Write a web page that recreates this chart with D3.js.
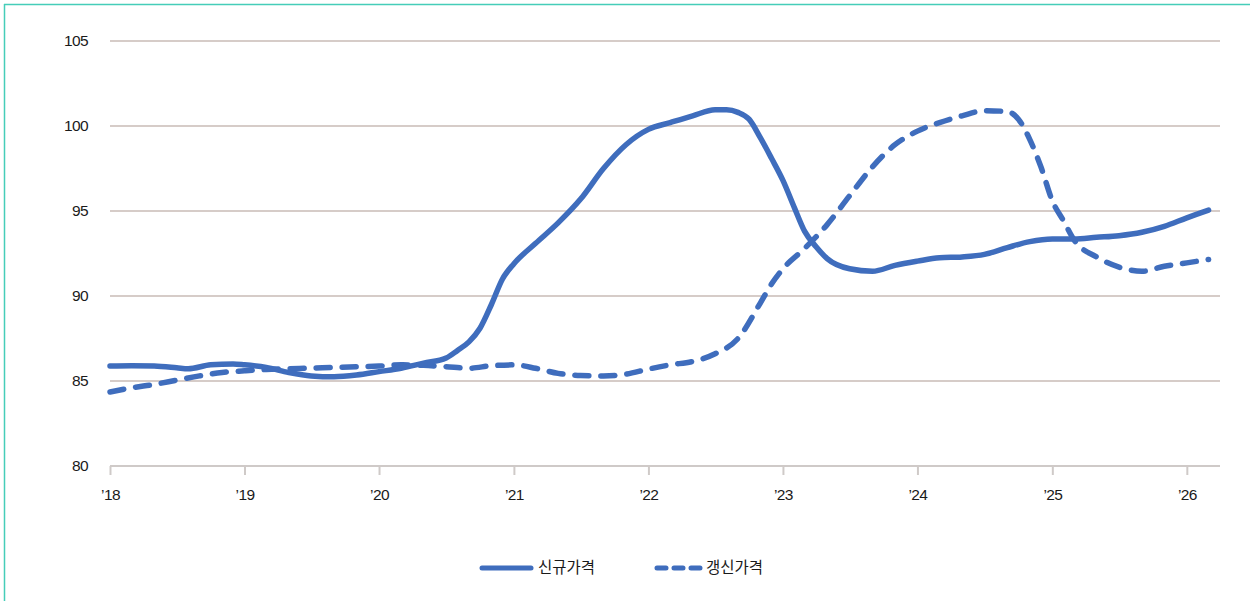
<!DOCTYPE html>
<html><head><meta charset="utf-8">
<script src="https://cdn.jsdelivr.net/npm/d3@7"></script>
<style>
html,body{margin:0;padding:0;background:#fff;}
svg{display:block;font-family:"Liberation Sans","Noto Sans CJK KR",sans-serif;}
</style></head>
<body><svg id="c" width="1250" height="601"></svg>
<script>
// ---- data ----
const newMonths = [0,2,4,6,7,9,11,12,14,16,18,20,22,24,26,28,30,31,32,33,34,35,36,38,40,42,44,46,48,50,52,54,55,56,57,58,59,60,61,62,63,64,66,68,70,72,74,76,78,80,82,84,86,88,90,92,94,96,98];
const newValues = [85.88,85.9,85.88,85.78,85.72,85.95,86.0,85.95,85.8,85.5,85.3,85.25,85.35,85.55,85.75,86.05,86.35,86.8,87.3,88.1,89.5,91.0,91.9,93.1,94.3,95.7,97.5,98.9,99.8,100.2,100.6,100.95,100.95,100.8,100.4,99.3,98.1,96.8,95.2,93.8,92.9,92.2,91.6,91.45,91.8,92.05,92.25,92.3,92.45,92.85,93.2,93.35,93.35,93.45,93.55,93.75,94.1,94.6,95.05];
const renewMonths = [0,2,4,6,8,10,12,14,16,18,20,22,24,26,28,30,32,34,36,38,40,42,44,46,48,50,52,54,56,58,59,60,62,64,66,68,70,72,74,76,78,80,81,82,83,84,85,86,88,90,92,94,96,98];
const renewValues = [84.35,84.6,84.8,85.05,85.3,85.5,85.6,85.68,85.72,85.76,85.8,85.84,85.88,85.95,85.92,85.84,85.75,85.9,85.95,85.75,85.45,85.32,85.3,85.4,85.7,85.95,86.15,86.6,87.5,89.6,90.7,91.6,92.8,94.2,95.9,97.6,98.9,99.7,100.2,100.6,100.9,100.85,100.4,99.2,97.6,95.6,94.4,93.3,92.3,91.7,91.45,91.75,91.95,92.15];
const yTicks = [80,85,90,95,100,105];
const xTickYears = [2018,2019,2020,2021,2022,2023,2024,2025,2026];
const xTickLabels = ["’18","’19","’20","’21","’22","’23","’24","’25","’26"];
const seriesNames = ["신규가격","갱신가격"];

const toDate = m => new Date(2018, m, 1);
const svg = d3.select("#c");
const blue = "#3f6dbd";
const textCol = "#1a1a1a";

// frame
svg.append("line").attr("x1",4).attr("x2",1250).attr("y1",4.5).attr("y2",4.5).attr("stroke","#45cdb9").attr("stroke-width",1.5);
svg.append("line").attr("x1",4.5).attr("x2",4.5).attr("y1",4).attr("y2",601).attr("stroke","#45cdb9").attr("stroke-width",1.5);

const x = d3.scaleTime().domain([new Date(2018,0,1), new Date(2026,3,1)]).range([110,1220]);
const y = d3.scaleLinear().domain([80,105]).range([466,41]);

// gridlines
svg.append("g").selectAll("line").data(yTicks.filter(v=>v>80)).join("line")
  .attr("x1",110).attr("x2",1220).attr("y1",d=>y(d)).attr("y2",d=>y(d))
  .attr("stroke","#d6ccc8").attr("stroke-width",2);

// y axis labels
svg.append("g").selectAll("text").data(yTicks).join("text")
  .attr("x",88).attr("y",d=>y(d)).attr("dy","0.35em").attr("text-anchor","end")
  .attr("font-size",15.5).attr("fill",textCol).attr("letter-spacing","-0.6")
  .text(d=>d);

// x axis
const xAxis = d3.axisBottom(x)
  .tickValues(xTickYears.map(yr=>new Date(yr,0,1)))
  .tickFormat((d,i)=>xTickLabels[i]).tickSize(9).tickPadding(14);
const gx = svg.append("g").attr("transform",`translate(0,${y(80)})`).call(xAxis);
gx.select(".domain").attr("stroke","#cfcac8").attr("stroke-width",2).attr("d","M110,0H1220");
gx.selectAll(".tick line").attr("stroke","#cfcac8").attr("stroke-width",2);
gx.selectAll(".tick text").attr("font-size",15.5).attr("fill",textCol).attr("letter-spacing","-0.6")
  .attr("font-family","Liberation Sans, sans-serif");

const line = d3.line().x(d=>x(d.date)).y(d=>y(d.v)).curve(d3.curveMonotoneX);
const newData = newMonths.map((m,i)=>({date:toDate(m), v:newValues[i]}));
const renewData = renewMonths.map((m,i)=>({date:toDate(m), v:renewValues[i]}));

svg.append("path").datum(renewData).attr("d",line).attr("fill","none")
  .attr("stroke",blue).attr("stroke-width",5.5).attr("stroke-linecap","round")
  .attr("stroke-dasharray","14,12");
svg.append("path").datum(newData).attr("d",line).attr("fill","none")
  .attr("stroke",blue).attr("stroke-width",5.5).attr("stroke-linecap","round").attr("stroke-linejoin","round");

// legend
const lg = svg.append("g");
lg.append("line").attr("x1",482).attr("x2",531).attr("y1",568).attr("y2",568)
  .attr("stroke",blue).attr("stroke-width",5).attr("stroke-linecap","round");
lg.append("text").attr("x",538).attr("y",568).attr("dy","0.35em").attr("font-size",15.5)
  .attr("font-family","Noto Sans CJK KR, sans-serif").attr("fill",textCol).text(seriesNames[0]);
lg.append("line").attr("x1",657).attr("x2",700).attr("y1",568).attr("y2",568)
  .attr("stroke",blue).attr("stroke-width",5).attr("stroke-linecap","round").attr("stroke-dasharray","9,8");
lg.append("text").attr("x",706).attr("y",568).attr("dy","0.35em").attr("font-size",15.5)
  .attr("font-family","Noto Sans CJK KR, sans-serif").attr("fill",textCol).text(seriesNames[1]);
</script></body></html>
